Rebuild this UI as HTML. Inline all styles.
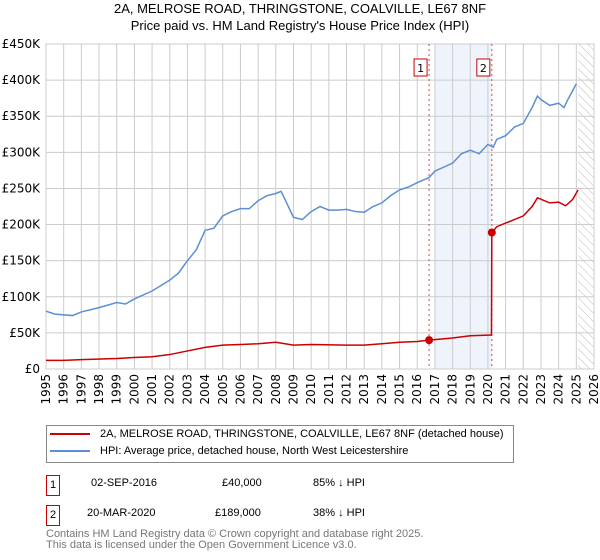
<!DOCTYPE html><html><head><meta charset="utf-8"><style>
body{margin:0;width:600px;height:560px;background:#fff;font-family:"Liberation Sans","DejaVu Sans",sans-serif;overflow:hidden;position:relative}
.t{position:absolute;white-space:nowrap}
svg text{font-family:"DejaVu Sans","Liberation Sans",sans-serif}
</style></head><body>
<div class="t" style="left:0;width:600px;text-align:center;top:0;font-size:13px;line-height:17px;color:#000">2A, MELROSE ROAD, THRINGSTONE, COALVILLE, LE67 8NF<br>Price paid vs. HM Land Registry's House Price Index (HPI)</div>
<svg id="c" width="600" height="420" style="position:absolute;left:0;top:0"></svg>
<div style="position:absolute;left:46px;top:425px;width:466px;height:36px;border:1px solid #888"></div>
<div class="t" style="left:50px;top:428px;font-size:11px"><span style="display:inline-block;width:40px;height:2px;background:#cc0000;vertical-align:middle;margin-right:10px"></span>2A, MELROSE ROAD, THRINGSTONE, COALVILLE, LE67 8NF (detached house)</div>
<div class="t" style="left:50px;top:445px;font-size:11px"><span style="display:inline-block;width:40px;height:2px;background:#5b8fd4;vertical-align:middle;margin-right:10px"></span>HPI: Average price, detached house, North West Leicestershire</div>
<div class="t" style="left:46px;top:475px;width:12px;height:19px;border:1px solid #cc0000;font-size:11px;text-align:center;line-height:19px">1</div>
<div class="t" style="left:91px;top:477px;font-size:11px">02-SEP-2016</div>
<div class="t" style="left:222px;top:477px;font-size:11px">£40,000</div>
<div class="t" style="left:313px;top:477px;font-size:11px">85% ↓ HPI</div>
<div class="t" style="left:46px;top:505px;width:12px;height:19px;border:1px solid #cc0000;font-size:11px;text-align:center;line-height:19px">2</div>
<div class="t" style="left:87px;top:507px;font-size:11px">20-MAR-2020</div>
<div class="t" style="left:215px;top:507px;font-size:11px">£189,000</div>
<div class="t" style="left:313px;top:507px;font-size:11px">38% ↓ HPI</div>
<div class="t" style="left:46px;top:529px;font-size:11px;line-height:11px;color:#777">Contains HM Land Registry data © Crown copyright and database right 2025.<br>This data is licensed under the Open Government Licence v3.0.</div>
<script>
const hpiYears=[1995,1995.5,1996.5,1997,1998,1999,1999.5,2000,2001,2002,2002.5,2003,2003.5,2004,2004.5,2005,2005.5,2006,2006.5,2007,2007.5,2008,2008.3,2009,2009.5,2010,2010.5,2011,2011.5,2012,2012.5,2013,2013.5,2014,2014.5,2015,2015.5,2016,2016.67,2017,2018,2018.5,2019,2019.5,2020,2020.3,2020.5,2021,2021.5,2022,2022.5,2022.8,2023,2023.5,2024,2024.3,2024.5,2025];
const hpiValues=[80,76,74,79,85,92,90,97,108,123,133,150,165,192,195,212,218,222,222,233,240,243,246,210,207,218,225,220,220,221,218,217,225,230,240,248,252,258,265,274,285,298,303,298,311,307,318,323,335,340,362,378,373,365,368,362,372,395];
const priceYears=[1995,1996,1997,1999,2000,2001,2002,2003,2004,2005,2006,2007,2008,2009,2010,2012,2013,2014,2015,2016,2016.67,2018,2019,2020.2,2020.22,2020.5,2021,2022,2022.5,2022.8,2023.5,2024,2024.4,2024.8,2025.1];
const priceValues=[12,12,13,14.5,16,17,20,25,30,33,34,35,37,33,34,33,33,35,37,38,40,43,46,47,189,197,202,212,225,237,230,231,226,235,248];
const saleYears=[2016.67,2020.22];
const saleValues=[40,189];
const yTicks=[0,50,100,150,200,250,300,350,400,450];
const xTicks=[1995,1996,1997,1998,1999,2000,2001,2002,2003,2004,2005,2006,2007,2008,2009,2010,2011,2012,2013,2014,2015,2016,2017,2018,2019,2020,2021,2022,2023,2024,2025,2026];
const L=46,R=594,T=44,B=369;
const x=v=>L+(v-1995)/31*(R-L);
const y=v=>B-v/450*(B-T);
const s=document.getElementById('c');const NS='http://www.w3.org/2000/svg';
function mk(t,a){const e=document.createElementNS(NS,t);for(const k in a)e.setAttribute(k,a[k]);s.appendChild(e);return e;}
let e=mk('rect',{x:x(2017),y:T,width:x(2020.22)-x(2017),height:B-T,fill:'#eef3fc'});


const defs=mk('defs',{});defs.innerHTML='<pattern id="h" width="6" height="6" patternUnits="userSpaceOnUse" patternTransform="rotate(-45)"><line x1="0" y1="0" x2="0" y2="6" stroke="#bbb" stroke-width="1"/></pattern>';
e=mk('rect',{x:x(2025.1),y:T,width:R-x(2025.1),height:B-T,fill:'url(#h)'});


yTicks.forEach(v=>{
 e=mk('line',{x1:L,x2:R,y1:y(v),y2:y(v),stroke:'#ccc'});
 
 
 e=mk('text',{x:L-6,y:y(v)+4,'text-anchor':'end','font-size':12,fill:'#000'});e.textContent=v==0?'£0':'£'+v+'K';
 
 
});
xTicks.forEach(v=>{
 e=mk('line',{x1:x(v),x2:x(v),y1:T,y2:B,stroke:'#ccc'});
 
 
 e=mk('text',{x:0,y:0,'text-anchor':'end','font-size':12,fill:'#000',transform:`translate(${x(v)+4},${B+5}) rotate(-90)`});e.textContent=v;
 
 
});
e=mk('rect',{x:L,y:T,width:R-L,height:B-T,fill:'none',stroke:'#ccc'});


saleYears.forEach((v,i)=>{
 e=mk('line',{x1:x(v),x2:x(v),y1:T,y2:B,stroke:'#dd4444','stroke-dasharray':'2,3'});
 
 
 e=mk('rect',{x:x(v)-15,y:59,width:13,height:17,fill:'#fff',stroke:'#cc0000'});
 
 
 e=mk('text',{x:x(v)-8.5,y:72,'text-anchor':'middle','font-size':11});e.textContent=i+1;
 
 
});
e=mk('polyline',{points:hpiYears.map((v,i)=>x(v)+','+y(hpiValues[i])).join(' '),fill:'none',stroke:'#5b8fd4','stroke-width':1.5});


e=mk('polyline',{points:priceYears.map((v,i)=>x(v)+','+y(priceValues[i])).join(' '),fill:'none',stroke:'#cc0000','stroke-width':1.5});


saleYears.forEach((v,i)=>{
 e=mk('circle',{cx:x(v),cy:y(saleValues[i]),r:4,fill:'#cc0000'});
 
 
});
</script>
</body></html>
